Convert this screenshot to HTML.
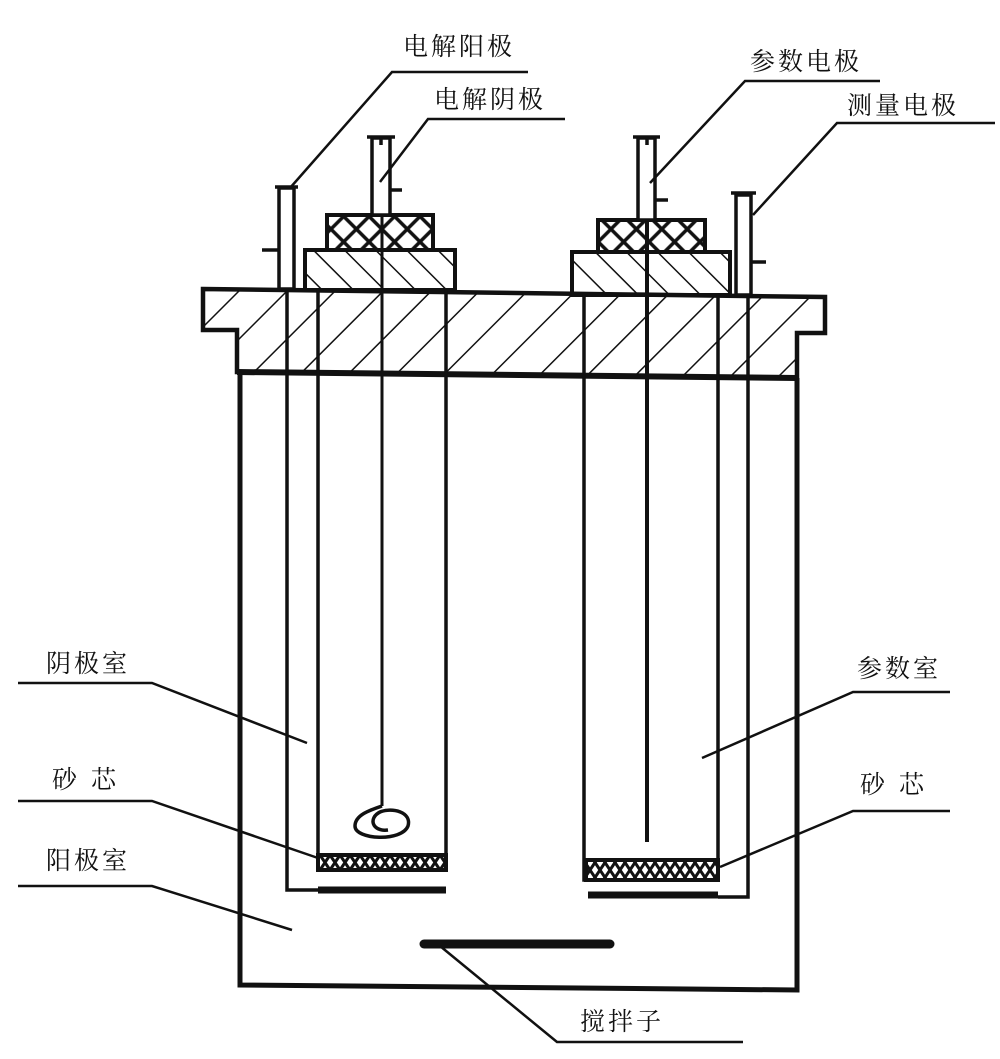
<!DOCTYPE html>
<html><head><meta charset="utf-8"><style>
html,body{margin:0;padding:0;background:#fff;}
svg{display:block;}
text{font-family:"Liberation Serif","Noto Serif CJK SC",serif;font-size:25px;fill:#111;letter-spacing:3px;}
</style></head><body>
<svg width="1000" height="1059" viewBox="0 0 1000 1059" xmlns="http://www.w3.org/2000/svg">
<defs>
<pattern id="h1" patternUnits="userSpaceOnUse" width="34" height="34" patternTransform="rotate(45)">
<line x1="0" y1="0" x2="0" y2="34" stroke="#111" stroke-width="3"/></pattern>
<pattern id="h2" patternUnits="userSpaceOnUse" width="22" height="22" patternTransform="rotate(-45)">
<line x1="0" y1="0" x2="0" y2="22" stroke="#111" stroke-width="3"/></pattern>
<pattern id="x1" patternUnits="userSpaceOnUse" width="18" height="18" patternTransform="rotate(45)">
<rect width="18" height="18" fill="#fff" stroke="#111" stroke-width="3.5"/></pattern>
<pattern id="sand" patternUnits="userSpaceOnUse" width="20" height="15">
<rect width="20" height="15" fill="#fff"/><path d="M0 0 L10 15 L20 0 M0 15 L10 0 L20 15" stroke="#111" stroke-width="3" fill="none"/></pattern>
</defs>
<g stroke="#111" fill="none" stroke-width="3.5">
<path d="M203 289 L825 297 L825 333 L797 333 L797 378 L237 372 L237 330 L203 330 Z" fill="url(#h1)" stroke-width="4.5"/>
<line x1="237" y1="372" x2="797" y2="378" stroke-width="6"/>
<rect x="305" y="250" width="150" height="40" fill="url(#h2)" stroke-width="4"/>
<rect x="327" y="215" width="106" height="35" fill="url(#x1)" stroke-width="4"/>
<rect x="572" y="252" width="158" height="43" fill="url(#h2)" stroke-width="4"/>
<rect x="598" y="220" width="107" height="32" fill="url(#x1)" stroke-width="4"/>
<path d="M240 374 L240 985 L797 990 L797 378" stroke-width="5"/>
<path d="M287 290 L287 890 L318 890"/>
<path d="M318 290 L318 870 L446 870 L446 290"/>
<rect x="318" y="855" width="128" height="15" fill="url(#sand)" stroke-width="4"/>
<line x1="318" y1="890" x2="446" y2="890" stroke-width="7"/>
<line x1="382" y1="215" x2="382" y2="806" stroke-width="3"/>
<path d="M382 806 C370 810 355 815 355 826 C355 840 402 842 408 826 C412 812 392 807 380 812 C368 818 372 832 388 830" stroke-width="3.5"/>
<path d="M584 295 L584 880 L718 880 L718 295"/>
<rect x="586" y="860" width="132" height="20" fill="url(#sand)" stroke-width="4"/>
<path d="M748 297 L748 897 L718 897"/>
<line x1="588" y1="895" x2="718" y2="895" stroke-width="7"/>
<line x1="647" y1="220" x2="647" y2="842" stroke-width="4"/>
<line x1="424" y1="944" x2="610" y2="944" stroke-width="9" stroke-linecap="round"/>
<rect x="279" y="188" width="15" height="101" fill="#fff"/>
<line x1="275" y1="187" x2="298" y2="187"/>
<line x1="262" y1="250" x2="279" y2="250"/>
<rect x="372" y="138" width="18" height="77" fill="#fff"/>
<line x1="367" y1="137" x2="395" y2="137"/><line x1="381" y1="137" x2="381" y2="145"/>
<line x1="390" y1="190" x2="402" y2="190"/>
<rect x="638" y="138" width="17" height="82" fill="#fff"/>
<line x1="633" y1="137" x2="660" y2="137"/><line x1="647" y1="137" x2="647" y2="145"/>
<line x1="655" y1="200" x2="668" y2="200"/>
<rect x="736" y="195" width="15" height="100" fill="#fff"/>
<line x1="731" y1="193" x2="756" y2="193"/>
<line x1="751" y1="262" x2="766" y2="262"/>
</g>
<g stroke="#111" fill="none" stroke-width="2.5">
<path d="M528 72 L392 72 L290 188"/>
<path d="M565 119 L428 119 L380 182"/>
<path d="M880 81 L745 81 L650 183"/>
<path d="M995 123 L837 123 L753 215"/>
<path d="M18 683 L152 683 L307 743"/>
<path d="M18 801 L152 801 L318 858"/>
<path d="M18 886 L152 886 L292 930"/>
<path d="M950 692 L853 692 L702 758"/>
<path d="M950 811 L853 811 L720 867"/>
<path d="M440 946 L557 1042 L743 1042"/>
</g>
<text x="403" y="55">电解阳极</text>
<text x="434" y="108">电解阴极</text>
<text x="750" y="70">参数电极</text>
<text x="847" y="114">测量电极</text>
<text x="46" y="672">阴极室</text>
<text x="52" y="788" style="letter-spacing:14px">砂芯</text>
<text x="46" y="869">阳极室</text>
<text x="857" y="677">参数室</text>
<text x="860" y="793" style="letter-spacing:14px">砂芯</text>
<text x="580" y="1030">搅拌子</text>
</svg>
</body></html>
